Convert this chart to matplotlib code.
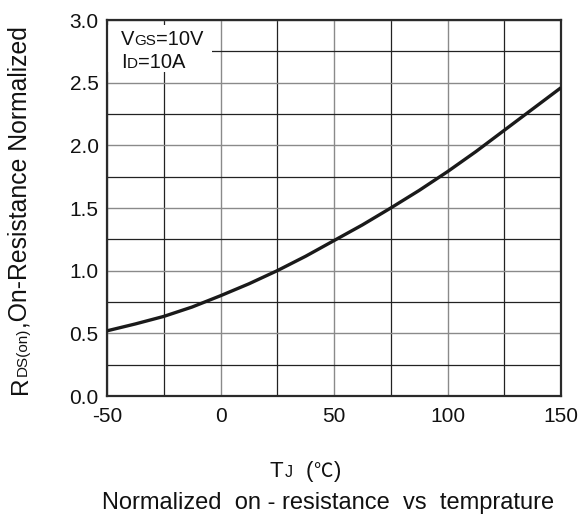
import matplotlib
matplotlib.use("Agg")
import matplotlib.pyplot as plt
from matplotlib.transforms import IdentityTransform
from matplotlib.patches import Rectangle

# ---- data ----
temp_c = [-50, -37.5, -25, -12.5, 0, 12.5, 25, 37.5, 50, 62.5, 75, 87.5, 100, 112.5, 125, 137.5, 150]
rds_norm = [0.52, 0.575, 0.635, 0.71, 0.80, 0.895, 1.00, 1.115, 1.24, 1.365, 1.50, 1.64, 1.79, 1.95, 2.12, 2.29, 2.46]
x_major = [-50, 0, 50, 100, 150]
x_minor = [-25, 25, 75, 125]
y_major = [0.0, 0.5, 1.0, 1.5, 2.0, 2.5, 3.0]
y_minor = [0.25, 0.75, 1.25, 1.75, 2.25, 2.75]
caption = "Normalized  on - resistance  vs  temprature"

FAM = ["Liberation Sans", "DejaVu Sans"]
FAM_C = ["Noto Sans CJK SC", "DejaVu Sans"]
plt.rcParams["font.family"] = FAM

W, H = 581, 515
fig = plt.figure(figsize=(W / 100, H / 100), dpi=100)
L, R, T, B = 107, 561, 20, 396
ax = fig.add_axes([L / W, 1 - B / H, (R - L) / W, (B - T) / H])

ax.set_xlim(-50, 150)
ax.set_ylim(0, 3.0)
ax.set_xticks(x_major)
ax.set_xticks(x_minor, minor=True)
ax.set_yticks(y_major)
ax.set_yticks(y_minor, minor=True)
ax.set_xticklabels([f"{v:g}" for v in x_major])
ax.set_yticklabels([f"{v:.1f}" for v in y_major])
ax.tick_params(which="both", length=0, labelsize=15, colors="#111111")
ax.tick_params(axis="y", pad=6)
ax.tick_params(axis="x", pad=8)
ax.grid(which="major", color="#8a8a8a", linewidth=1.0)
ax.grid(which="minor", color="#222222", linewidth=0.9)
ax.set_axisbelow(True)
for s in ax.spines.values():
    s.set_linewidth(1.6)
    s.set_color("#2a2a2a")

# white box behind condition text
ax.add_patch(Rectangle((0, (B - 72) / (B - T)), (212 - L) / (R - L), (72 - 25) / (B - T),
                       transform=ax.transAxes, facecolor="white", edgecolor="none", zorder=1.5))

ax.plot(temp_c, rds_norm, color="#1a1a1a", linewidth=2.4, zorder=3, solid_capstyle="butt")

renderer = fig.canvas.get_renderer()


def put(x, y, s, size, rotation=0, family=FAM):
    t = fig.text(x, H - y, s, fontsize=size, rotation=rotation, rotation_mode="anchor",
                 ha="left", va="baseline", transform=IdentityTransform(),
                 color="#111111", family=family)
    return t.get_window_extent(renderer)


def seq_text(x, y, pieces, rotation=0, family=FAM):
    """Draw text pieces of different sizes along a shared baseline; x,y in top-left pixels."""
    for s, size in pieces:
        bb = put(x, y, s, size, rotation, family)
        if rotation == 0:
            x += bb.width
        else:
            y -= bb.height


# condition text
seq_text(121, 45, [("V", 14.5), ("GS", 11), ("=10V", 14.5)])
seq_text(121, 68, [("I", 14.5), ("D", 11), ("=10A", 14.5)])

# y label
seq_text(27, 394, [("R", 17.5), ("DS(on)", 11), (",On-Resistance Normalized", 17.8)], rotation=90)

# x label
put(270, 477, "T", 16)
put(285, 477, "J", 11.5)
put(306, 477, "(", 16)
put(313, 477, "℃", 14, family=FAM_C)
put(334, 477, ")", 16)

# caption
put(102, 509, caption, 17)

fig.savefig("out.png", dpi=100)
